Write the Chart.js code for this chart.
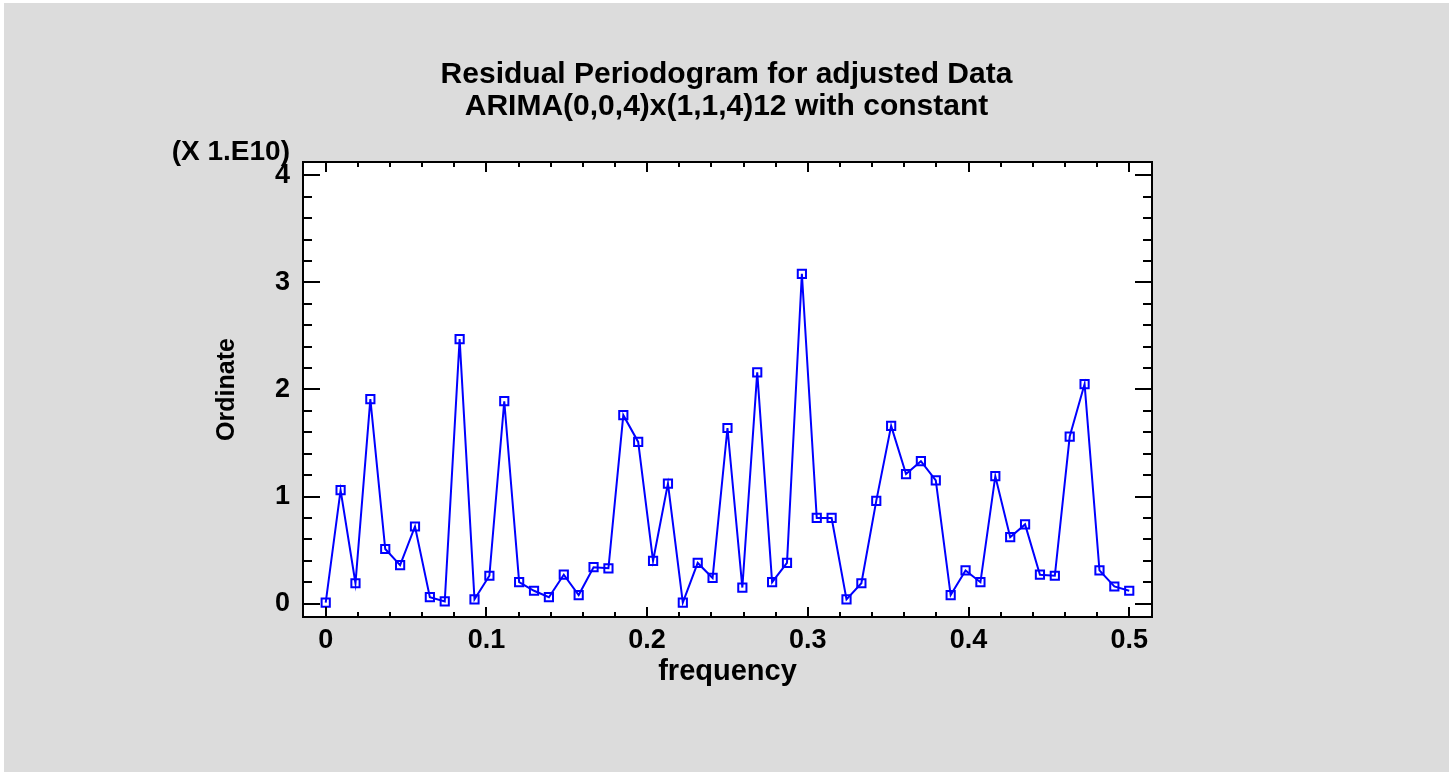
<!DOCTYPE html>
<html><head><meta charset="utf-8">
<script src="https://cdn.jsdelivr.net/npm/chart.js@4.4.1/dist/chart.umd.min.js"></script>
<style>
html,body{margin:0;padding:0;background:#fff;}
body{width:1449px;height:772px;overflow:hidden;position:relative;}
#wrap{position:absolute;left:4px;top:3px;width:1445px;height:769px;background:#dcdcdc;}
canvas{display:block;}
</style></head><body>
<div id="wrap"><canvas id="c" width="1445" height="769"></canvas></div>
<script>
// Periodogram frequencies (k/108)
const frequency = [0, 0.00926, 0.01852, 0.02778, 0.03704, 0.0463, 0.05556, 0.06481, 0.07407, 0.08333,
  0.09259, 0.10185, 0.11111, 0.12037, 0.12963, 0.13889, 0.14815, 0.15741, 0.16667, 0.17593,
  0.18519, 0.19444, 0.2037, 0.21296, 0.22222, 0.23148, 0.24074, 0.25, 0.25926, 0.26852,
  0.27778, 0.28704, 0.2963, 0.30556, 0.31481, 0.32407, 0.33333, 0.34259, 0.35185, 0.36111,
  0.37037, 0.37963, 0.38889, 0.39815, 0.40741, 0.41667, 0.42593, 0.43519, 0.44444, 0.4537,
  0.46296, 0.47222, 0.48148, 0.49074, 0.5];
// Ordinate values in units of 1E10
const ordinate = [0.01, 1.06, 0.19, 1.91, 0.51, 0.36, 0.72, 0.06, 0.02, 2.47,
  0.04, 0.26, 1.89, 0.20, 0.12, 0.06, 0.27, 0.08, 0.34, 0.33,
  1.76, 1.51, 0.40, 1.12, 0.01, 0.38, 0.24, 1.64, 0.15, 2.16,
  0.20, 0.38, 3.08, 0.80, 0.80, 0.04, 0.19, 0.96, 1.66, 1.21,
  1.33, 1.15, 0.08, 0.31, 0.20, 1.19, 0.62, 0.74, 0.27, 0.26,
  1.56, 2.05, 0.31, 0.16, 0.12];
const xTickValues = [0, 0.1, 0.2, 0.3, 0.4, 0.5];
const xTickLabels = ['0', '0.1', '0.2', '0.3', '0.4', '0.5'];
const yTickValues = [0, 1, 2, 3, 4];
const yTickLabels = ['0', '1', '2', '3', '4'];
const titleLines = ['Residual Periodogram for adjusted Data', 'ARIMA(0,0,4)x(1,1,4)12 with constant'];
const xTitle = 'frequency';
const yTitle = 'Ordinate';
const yMultiplier = '(X 1.E10)';

const FONT = "'Liberation Sans', Arial, sans-serif";
Chart.defaults.font.family = FONT;
Chart.defaults.color = '#000';

const framePlugin = {
  id: 'frame',
  beforeDraw(chart) {
    const {ctx, chartArea: a} = chart;
    ctx.save();
    ctx.fillStyle = '#ffffff';
    ctx.fillRect(a.left, a.top, a.right - a.left, a.bottom - a.top);
    ctx.restore();
  },
  afterDraw(chart) {
    const {ctx, chartArea: a} = chart;
    const xs = chart.scales.x, ys = chart.scales.y;
    ctx.save();
    ctx.strokeStyle = '#000';
    ctx.lineWidth = 2;
    ctx.beginPath();
    // x ticks (inside, bottom and top)
    for (let i = 0; i <= 25; i++) {
      const v = i * 0.02;
      const major = i % 5 === 0;
      const len = major ? 10 : 5;
      const px = Math.round(xs.getPixelForValue(v));
      ctx.moveTo(px, a.bottom); ctx.lineTo(px, a.bottom - len);
      ctx.moveTo(px, a.top); ctx.lineTo(px, a.top + len);
    }
    // y ticks (inside, left and right)
    for (let i = 0; i <= 20; i++) {
      const v = i * 0.2;
      const major = i % 5 === 0;
      const len = major ? 17 : 9;
      const py = Math.round(ys.getPixelForValue(v));
      ctx.moveTo(a.left, py); ctx.lineTo(a.left + len, py);
      ctx.moveTo(a.right, py); ctx.lineTo(a.right - len, py);
    }
    ctx.stroke();
    ctx.strokeRect(a.left, a.top, a.right - a.left, a.bottom - a.top);
    // multiplier label
    ctx.fillStyle = '#000';
    ctx.font = 'bold 28px ' + FONT;
    ctx.textAlign = 'right';
    ctx.textBaseline = 'middle';
    ctx.fillText(yMultiplier, a.left - 13, a.top - 10);
    ctx.restore();
  }
};

new Chart(document.getElementById('c'), {
  type: 'line',
  data: {
    datasets: [{
      data: frequency.map((f, i) => ({x: f, y: ordinate[i]})),
      borderColor: '#0000ff',
      borderWidth: 2,
      pointStyle: 'rect',
      pointRadius: 5.8,
      pointBorderWidth: 2,
      pointBorderColor: '#0000ff',
      pointBackgroundColor: 'rgba(0,0,0,0)',
      tension: 0,
      fill: false
    }]
  },
  options: {
    responsive: false,
    animation: false,
    devicePixelRatio: 1,
    events: [],
    layout: {padding: 0},
    plugins: {
      legend: {display: false},
      tooltip: {enabled: false},
      title: {
        display: true,
        text: titleLines,
        color: '#000',
        font: {size: 30, weight: 'bold', lineHeight: '32px', family: FONT},
        padding: {top: 55.4, bottom: 39.6}
      }
    },
    scales: {
      x: {
        type: 'linear',
        position: 'bottom',
        min: -0.01413,
        max: 0.51417,
        afterBuildTicks: s => { s.ticks = xTickValues.map(v => ({value: v})); },
        afterFit: s => { s.height = 155; },
        grid: {display: false, drawTicks: false},
        border: {display: false},
        ticks: {
          autoSkip: false, maxRotation: 0, padding: 7,
          font: {size: 27, weight: 'bold'},
          callback: (v, i) => xTickLabels[i]
        },
        title: {
          display: true, text: xTitle,
          font: {size: 29, weight: 'bold'},
          padding: {top: 0, bottom: 83}
        }
      },
      y: {
        type: 'linear',
        position: 'left',
        min: -0.125,
        max: 4.124,
        afterBuildTicks: s => { s.ticks = yTickValues.map(v => ({value: v})); },
        afterFit: s => { s.width = 299; },
        grid: {display: false, drawTicks: false},
        border: {display: false},
        ticks: {
          autoSkip: false, padding: 13,
          font: {size: 27, weight: 'bold'},
          callback: (v, i) => yTickLabels[i]
        },
        title: {
          display: true, text: yTitle,
          font: {size: 25, weight: 'bold'},
          padding: {top: 208, bottom: 0}
        }
      },
      y2: {
        type: 'linear',
        position: 'right',
        display: true,
        afterFit: s => { s.width = 297; },
        grid: {display: false, drawTicks: false},
        border: {display: false},
        ticks: {display: false}
      }
    }
  },
  plugins: [framePlugin]
});
</script>
</body></html>
